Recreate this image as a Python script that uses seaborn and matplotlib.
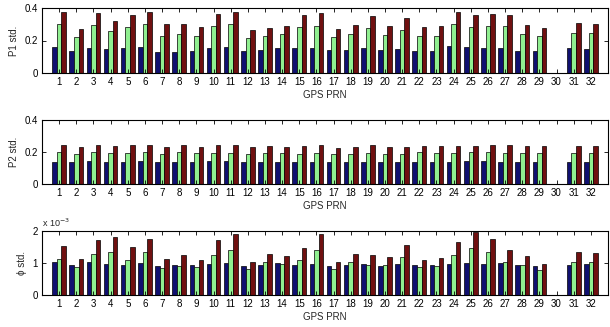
import numpy as np
import pandas as pd
import matplotlib
matplotlib.use("Agg")
import matplotlib.pyplot as plt
import seaborn as sns

prn = list(range(1, 33))
series = ["s1", "s2", "s3"]
colors = ["#000080", "#80ff80", "#800000"]

nan = np.nan
p1_s1 = [0.160, 0.133, 0.156, 0.150, 0.152, 0.162, 0.129, 0.129, 0.133, 0.152, 0.162, 0.133, 0.139, 0.156, 0.152,
         0.152, 0.139, 0.144, 0.152, 0.139, 0.148, 0.133, 0.133, 0.166, 0.162, 0.156, 0.156, 0.133, 0.137, nan, 0.156, 0.150]
p1_s2 = [0.300, 0.222, 0.295, 0.258, 0.281, 0.300, 0.230, 0.240, 0.226, 0.289, 0.300, 0.215, 0.226, 0.240, 0.281,
         0.289, 0.222, 0.240, 0.277, 0.234, 0.267, 0.226, 0.226, 0.304, 0.281, 0.289, 0.289, 0.240, 0.226, nan, 0.248, 0.244]
p1_s3 = [0.373, 0.273, 0.369, 0.318, 0.357, 0.377, 0.300, 0.300, 0.281, 0.361, 0.373, 0.267, 0.277, 0.287, 0.357,
         0.369, 0.273, 0.295, 0.351, 0.291, 0.336, 0.281, 0.287, 0.377, 0.355, 0.363, 0.359, 0.295, 0.277, nan, 0.308, 0.300]

p2_s1 = [0.140, 0.135, 0.144, 0.140, 0.140, 0.144, 0.135, 0.140, 0.135, 0.144, 0.144, 0.135, 0.140, 0.140, 0.135,
         0.140, 0.135, 0.140, 0.140, 0.135, 0.140, 0.140, 0.135, 0.140, 0.144, 0.144, 0.140, 0.135, 0.140, nan, 0.140, 0.140]
p2_s2 = [0.198, 0.190, 0.198, 0.194, 0.194, 0.198, 0.190, 0.202, 0.194, 0.194, 0.194, 0.190, 0.194, 0.194, 0.190,
         0.194, 0.190, 0.190, 0.194, 0.190, 0.190, 0.198, 0.194, 0.194, 0.198, 0.198, 0.194, 0.194, 0.194, nan, 0.194, 0.194]
p2_s3 = [0.242, 0.231, 0.242, 0.238, 0.242, 0.242, 0.231, 0.242, 0.231, 0.242, 0.242, 0.231, 0.238, 0.231, 0.238,
         0.242, 0.227, 0.231, 0.242, 0.231, 0.231, 0.238, 0.238, 0.238, 0.238, 0.242, 0.242, 0.238, 0.238, nan, 0.238, 0.238]

# phi std in units of 1e-3
phi_s1 = [1.03, 0.95, 1.03, 0.98, 0.95, 1.00, 0.92, 0.95, 0.95, 0.98, 1.00, 0.90, 0.93, 1.00, 0.93,
          0.98, 0.90, 0.95, 0.98, 0.90, 0.98, 0.93, 0.93, 0.98, 1.00, 0.98, 1.00, 0.95, 0.90, nan, 0.93, 0.98]
phi_s2 = [1.14, 0.88, 1.27, 1.35, 1.09, 1.33, 0.83, 0.92, 0.86, 1.25, 1.42, 0.81, 1.03, 0.98, 1.08,
          1.42, 0.81, 1.03, 0.95, 0.95, 1.18, 0.86, 0.90, 1.24, 1.47, 1.33, 1.03, 0.95, 0.79, nan, 1.03, 1.03]
phi_s3 = [1.54, 1.12, 1.72, 1.80, 1.49, 1.76, 1.14, 1.24, 1.08, 1.71, 1.90, 1.03, 1.28, 1.21, 1.46,
          1.90, 1.03, 1.28, 1.26, 1.19, 1.56, 1.10, 1.17, 1.66, 1.96, 1.76, 1.40, 1.21, 0.98, nan, 1.34, 1.31]

panels = [
    ("P1 std.", [p1_s1, p1_s2, p1_s3], 0.4, [0, 0.2, 0.4], ["0", "0.2", "0.4"]),
    ("P2 std.", [p2_s1, p2_s2, p2_s3], 0.4, [0, 0.2, 0.4], ["0", "0.2", "0.4"]),
    ("\u03d5 std.", [phi_s1, phi_s2, phi_s3], 2.0, [0, 1, 2], ["0", "1", "2"]),
]

sns.set_theme(style="white")
plt.rcParams["font.family"] = ["Liberation Sans", "DejaVu Sans"]

fig = plt.figure(figsize=(6.10, 3.27), dpi=100)
positions = [
    [42 / 610, 1 - 73 / 327, 566 / 610, 65 / 327],
    [42 / 610, 1 - 184 / 327, 566 / 610, 64 / 327],
    [42 / 610, 1 - 295 / 327, 566 / 610, 64 / 327],
]
order = [str(p) for p in prn]

for i, (ylabel, vals, ymax, yt, ytl) in enumerate(panels):
    ax = fig.add_axes(positions[i])
    rows = []
    for s, v in zip(series, vals):
        for p, val in zip(prn, v):
            rows.append({"prn": str(p), "series": s, "value": val})
    df = pd.DataFrame(rows)
    sns.barplot(data=df, x="prn", y="value", hue="series", order=order,
                hue_order=series, palette=colors, width=0.8, ax=ax,
                legend=False, edgecolor="black", linewidth=0.5, errorbar=None)
    ax.set_axisbelow(False)
    ax.set_xlim(-1, 32)
    ax.set_ylim(0, ymax)
    ax.set_yticks(yt)
    ax.set_yticklabels(ytl)
    ax.set_xlabel("GPS PRN", fontsize=7, labelpad=2)
    ax.set_ylabel(ylabel, fontsize=7, labelpad=4)
    ax.tick_params(direction="in", top=True, right=True, bottom=True, left=True,
                   length=3, width=0.6, labelsize=7, pad=3, colors="black")
    for sp in ax.spines.values():
        sp.set_visible(True)
        sp.set_color("black")
        sp.set_linewidth(0.8)
    if i == 2:
        ax.text(0.0, 1.03, r"x 10$^{-3}$", transform=ax.transAxes,
                fontsize=6.5, ha="left", va="bottom")

fig.savefig("out.png", dpi=100)
